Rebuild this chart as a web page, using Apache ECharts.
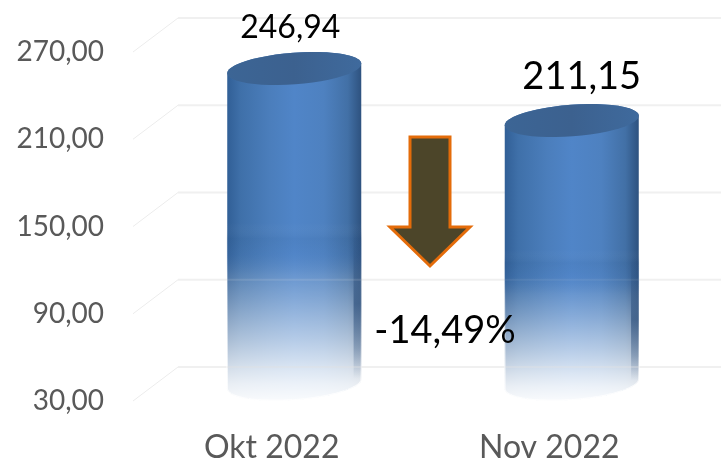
<!DOCTYPE html>
<html lang="id">
<head>
    <meta charset="UTF-8">
    <title>Okt - Nov 2022</title>
    <script src="https://cdn.jsdelivr.net/npm/echarts@6/dist/echarts.min.js"></script>
    <style>
        html, body { margin: 0; background: #fff; }
    </style>
</head>
<body>
    <div id="main" style="width: 721px; height: 464px;"></div>
    <script>
        const categories = ['Okt 2022', 'Nov 2022']
        const values = [246.94, 211.15]
        const axisValues = [30, 90, 150, 210, 270]
        const changeText = '-14,49%'

        const FONT = 'Lato'
        // depth of the fake 3D box, front edge to back wall
        const DEPTH_X = 45
        const DEPTH_Y = 34
        const TILT = -4.3 * Math.PI / 180
        const RX = 67.2
        const RY = 15.8
        // the two value labels are not the same size in the picture
        const labelStyle = [
            { size: 32, dx: -4, dy: -41 },
            { size: 38, dx: 10, dy: -44 }
        ]

        const fmt = v => v.toFixed(2).replace('.', ',')

        function ellipsePoints (cx, cy, from, to) {
            const pts = []
            for (let i = 0; i <= 48; i++) {
                const t = from + (to - from) * i / 48
                const a = RX * Math.cos(t)
                const b = RY * Math.sin(t)
                pts.push([
                    cx + a * Math.cos(TILT) - b * Math.sin(TILT),
                    cy + a * Math.sin(TILT) + b * Math.cos(TILT)
                ])
            }
            return pts
        }

        function grad (x2, y2, stops) {
            return new echarts.graphic.LinearGradient(0, 0, x2, y2,
                stops.map(s => ({ offset: s[0], color: s[1] })))
        }

        function renderWall (params, api) {
            const sys = params.coordSys
            const y = api.coord([0, api.value(0)])[1]
            const bx = sys.x + DEPTH_X
            const by = y - DEPTH_Y
            return {
                type: 'group',
                children: [
                    { type: 'line', shape: { x1: sys.x, y1: y, x2: bx, y2: by },
                        style: { stroke: '#ececec', lineWidth: 1 } },
                    { type: 'line', shape: { x1: bx, y1: by, x2: sys.x + sys.width + DEPTH_X, y2: by },
                        style: { stroke: '#f0f0f0', lineWidth: 2 } }
                ]
            }
        }

        function renderCylinder (params, api) {
            const i = params.dataIndex
            const value = api.value(1)
            const cx = api.coord([i, value])[0] + DEPTH_X / 2
            const top = api.coord([i, value])[1] - DEPTH_Y / 2
            const bottom = api.coord([i, axisValues[0]])[1] - DEPTH_Y / 2
            const span = bottom + RY - (top - RY)

            const body = ellipsePoints(cx, top, Math.PI, 2 * Math.PI)
                .concat(ellipsePoints(cx, bottom, 0, Math.PI))
            const strip = ellipsePoints(cx, bottom, 0, 0.5)
            strip.push([cx + RX - 8, top + 40])
            strip.push([cx + RX, top + 40])

            const fade = grad(0, 1, [[0, 'rgba(255,255,255,0)'], [0.49, 'rgba(255,255,255,0)'],
                [0.535, 'rgba(35,75,125,0.07)'], [0.58, 'rgba(90,135,200,0.08)'],
                [0.64, 'rgba(255,255,255,0.14)'], [0.71, 'rgba(255,255,255,0.3)'],
                [0.825, 'rgba(255,255,255,0.58)'], [0.91, 'rgba(255,255,255,0.8)'],
                [0.95, 'rgba(255,255,255,0.89)'], [1, 'rgba(255,255,255,0.97)']])

            const children = [
                { type: 'polygon', shape: { points: body }, style: {
                    fill: grad(1, 0, [[0, '#315f96'], [0.1, '#3f70a9'], [0.32, '#4b7ebc'],
                        [0.5, '#5085c8'], [0.72, '#4e81c0'], [0.9, '#4270a6'], [1, '#2e527f']])
                } },
                // stroked too, otherwise the blue under it shows as a rim along the bottom
                { type: 'polygon', shape: { points: body }, style: {
                    fill: fade, stroke: fade, lineWidth: 1.5
                } },
                { type: 'polygon', shape: { points: strip }, style: {
                    fill: grad(0, 1, [[0, 'rgba(38,74,120,0)'], [0.42, 'rgba(38,74,120,0)'],
                        [0.7, 'rgba(38,74,120,0.62)'], [0.86, 'rgba(38,74,120,0.32)'],
                        [0.97, 'rgba(38,74,120,0)'], [1, 'rgba(38,74,120,0)']])
                } },
                { type: 'polygon', shape: { points: ellipsePoints(cx, top, 0, 2 * Math.PI) }, style: {
                    fill: grad(1, 0, [[0, '#3c6595'], [0.5, '#3c618f'], [1, '#3f6a9d']])
                } },
                { type: 'text', style: {
                    text: fmt(value), x: cx + labelStyle[i].dx, y: top + labelStyle[i].dy,
                    align: 'center', verticalAlign: 'middle',
                    fill: '#000', font: labelStyle[i].size + 'px ' + FONT
                } }
            ]

            // the wall lines stay faintly visible through the faded part of the bar
            axisValues.forEach(v => {
                const y = api.coord([i, v])[1] - DEPTH_Y
                const alpha = ((y - (top - RY)) / span - 0.5) * 0.9
                if (alpha > 0) {
                    children.push({ type: 'line',
                        shape: { x1: cx - RX, y1: y, x2: cx + RX, y2: y },
                        style: { stroke: 'rgba(225,225,225,' + alpha.toFixed(2) + ')', lineWidth: 2 } })
                }
            })
            return { type: 'group', children }
        }

        const myChart = echarts.init(document.getElementById('main'))
        myChart.setOption({
            animation: false,
            grid: { left: 133, right: 33, top: 52, bottom: 61 },
            xAxis: {
                type: 'category',
                data: categories,
                axisLine: { show: false },
                axisTick: { show: false },
                axisLabel: { color: '#595959', fontFamily: FONT, fontSize: 32, margin: 31 }
            },
            yAxis: {
                type: 'value',
                min: axisValues[0],
                max: axisValues[axisValues.length - 1],
                axisLine: { show: false },
                axisTick: { show: false },
                splitLine: { show: false },
                axisLabel: {
                    customValues: axisValues,
                    color: '#595959', fontFamily: FONT, fontSize: 28, margin: 29,
                    formatter: fmt
                }
            },
            series: [
                {
                    type: 'custom',
                    name: 'wall',
                    renderItem: renderWall,
                    data: axisValues.map(v => [v]),
                    encode: { y: 0 },
                    silent: true,
                    z: 1
                },
                {
                    type: 'custom',
                    name: 'bars',
                    renderItem: renderCylinder,
                    data: values.map((v, i) => [i, v]),
                    encode: { x: 0, y: 1 },
                    z: 2
                }
            ],
            graphic: [
                {
                    type: 'polygon',
                    z: 10,
                    shape: { points: [[410, 137], [450, 137], [450, 227], [470, 227], [430, 266], [390, 227], [410, 227]] },
                    style: { fill: '#4c4529', stroke: '#e46c0a', lineWidth: 3 }
                },
                {
                    type: 'text',
                    z: 10,
                    x: 445, y: 331,
                    style: { text: changeText, align: 'center', verticalAlign: 'middle',
                        fill: '#000', font: '38px ' + FONT }
                }
            ]
        })
    </script>
</body>
</html>
